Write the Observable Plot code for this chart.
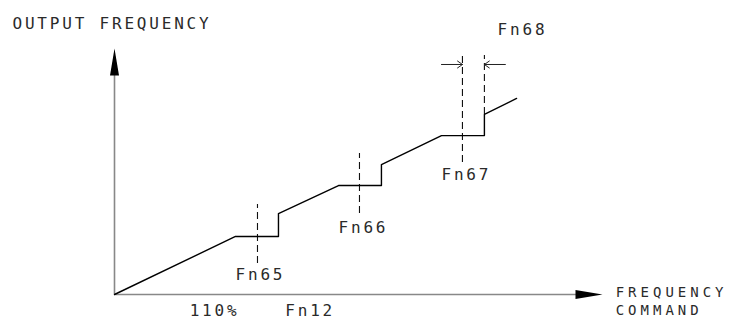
<!DOCTYPE html>
<html>
<head>
<meta charset="utf-8">
<script src="https://cdn.jsdelivr.net/npm/d3@7"></script>
<script src="https://cdn.jsdelivr.net/npm/@observablehq/plot@0.6"></script>
<style>
  html, body { margin: 0; padding: 0; background: #fff; }
  svg { display: block; }
</style>
</head>
<body>
<div id="chart"></div>
<script>
// Piecewise output-frequency curve (frequency command -> output frequency), arbitrary units 0..100
const curveX = [0, 24.8, 33.6, 33.6, 45.9, 54.7, 54.7, 67.0, 75.8, 75.8, 82.4];
const curveY = [0, 23.6, 23.6, 32.9, 44.3, 44.3, 52.8, 64.6, 64.6, 73.2, 79.7];

// Dashed guide lines
const guideNames = ["Fn65", "Fn66", "Fn67", "Fn68"];
const guideX = [29.3, 50.2, 71.3, 75.8];
const guideTop = [36.6, 57.3, 97.2, 97.2];
const guideBottom = [12.6, 32.9, 53.7, 73.2];

// Dimension arrows (Fn68 band width)
const dimX1 = [67.0, 80.1];
const dimX2 = [71.3, 75.8];
const dimY = [93.5, 93.5];

// Text labels
const labelText = ["OUTPUT FREQUENCY", "Fn68", "Fn67", "Fn66", "Fn65", "110%", "Fn12"];
const labelX = [-20.9, 78.5, 72.1, 51.0, 29.9, 15.4, 35.0];
const labelY = [108.1, 105.3, 46.7, 25.2, 5.7, -8.9, -8.9];
const labelAnchor = ["start", "start", "middle", "middle", "middle", "start", "start"];

// X-axis title (two lines)
const xTitleText = ["FREQUENCY", "COMMAND"];
const xTitleX = [102.7, 102.7];
const xTitleY = [-1.2, -8.5];

// Axis extents
const axisMax = 100;

const curve = curveX.map((x, i) => ({x, y: curveY[i]}));
const guides = guideNames.map((name, i) => ({name, x: guideX[i], y1: guideBottom[i], y2: guideTop[i]}));
const dims = dimX1.map((x1, i) => ({x1, x2: dimX2[i], y: dimY[i]}));
const labels = labelText.map((text, i) => ({text, x: labelX[i], y: labelY[i], anchor: labelAnchor[i]}));
const xTitle = xTitleText.map((text, i) => ({text, x: xTitleX[i], y: xTitleY[i]}));

const arrowHead = {
  draw(ctx) {
    ctx.moveTo(0, 0);
    ctx.lineTo(4.5, 27);
    ctx.lineTo(-4.5, 27);
    ctx.closePath();
  }
};

const textOpts = {
  fontFamily: "DejaVu Sans Mono",
  fontSize: 16,
  fill: "#2a2a2a",
  lineAnchor: "bottom"
};

const chart = Plot.plot({
  width: 730,
  height: 322,
  marginLeft: 114,
  marginRight: 128,
  marginTop: 48,
  marginBottom: 28,
  x: {domain: [0, axisMax], axis: null},
  y: {domain: [0, axisMax], axis: null},
  style: {background: "#fff", overflow: "visible"},
  marks: [
    Plot.ruleX([0], {y1: 0, y2: axisMax * 0.9, stroke: "#888", strokeWidth: 1.6}),
    Plot.ruleY([0], {x1: 0, x2: axisMax * 0.95, stroke: "#888", strokeWidth: 1.6}),
    Plot.dot([{x: 0, y: axisMax}], {x: "x", y: "y", symbol: arrowHead, fill: "#000", stroke: "none"}),
    Plot.dot([{x: axisMax, y: 0}], {x: "x", y: "y", symbol: arrowHead, rotate: 90, fill: "#000", stroke: "none"}),
    Plot.ruleX(guides, {x: "x", y1: "y1", y2: "y2", stroke: "#111", strokeWidth: 1.1, strokeDasharray: "7,4"}),
    Plot.line(curve, {x: "x", y: "y", stroke: "#000", strokeWidth: 1.4, curve: "linear"}),
    Plot.arrow(dims, {x1: "x1", x2: "x2", y1: "y", y2: "y", stroke: "#222", strokeWidth: 1, headLength: 9, headAngle: 70}),
    Plot.text(labels.filter(d => d.anchor === "start"), {x: "x", y: "y", text: "text", textAnchor: "start", ...textOpts}),
    Plot.text(labels.filter(d => d.anchor === "middle"), {x: "x", y: "y", text: "text", textAnchor: "middle", ...textOpts}),
    Plot.text(xTitle, {x: "x", y: "y", text: "text", textAnchor: "start", ...textOpts, fontSize: 14, className: "xtitle"})
  ]
});
chart.querySelectorAll("text").forEach(t => t.setAttribute("letter-spacing", "2.8"));
chart.querySelectorAll(".xtitle text").forEach(t => t.setAttribute("letter-spacing", "4"));
document.getElementById("chart").appendChild(chart);
</script>
</body>
</html>
